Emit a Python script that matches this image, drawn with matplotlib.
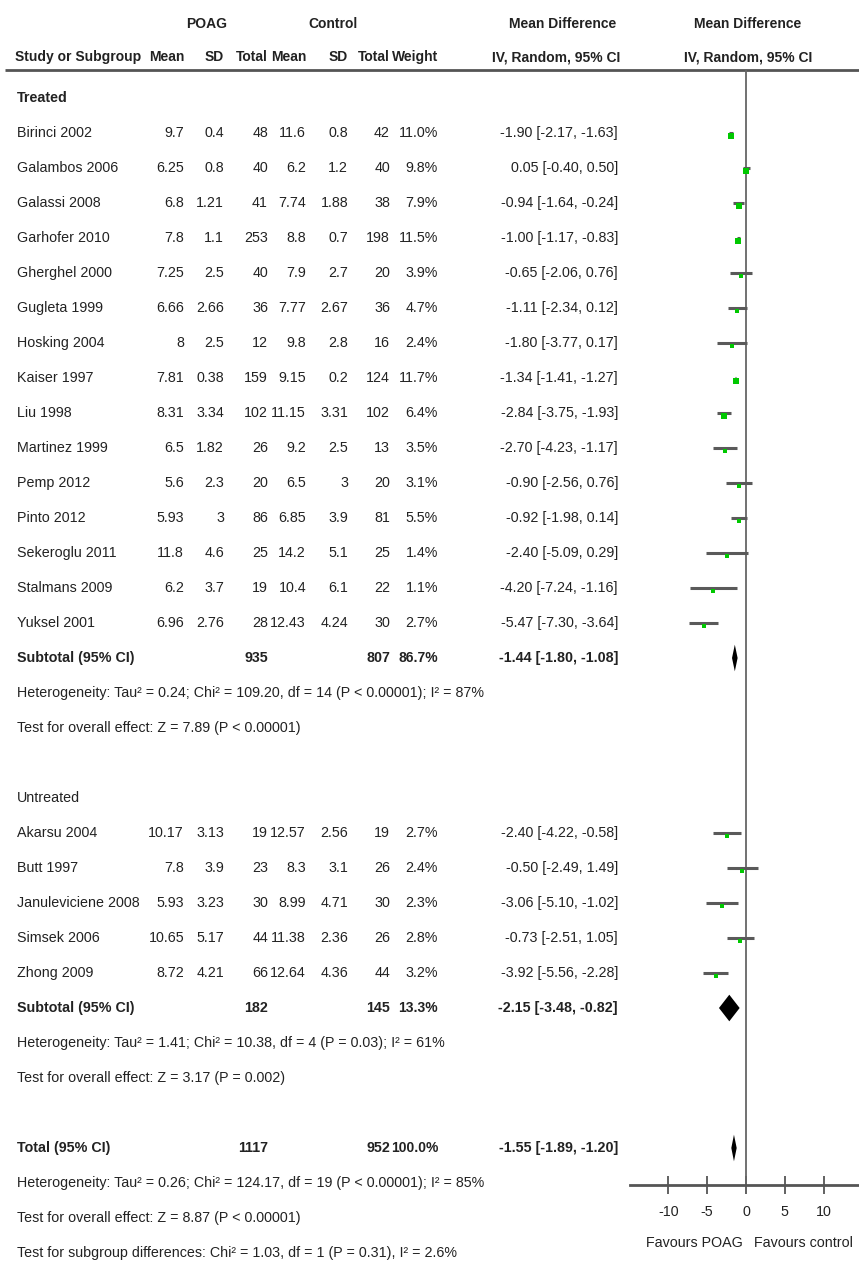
import matplotlib
matplotlib.use("Agg")
import matplotlib.pyplot as plt

plt.rcParams['font.family'] = ['Liberation Sans', 'DejaVu Sans']

# Treated subgroup
studies_t = ["Birinci 2002", "Galambos 2006", "Galassi 2008", "Garhofer 2010", "Gherghel 2000",
             "Gugleta 1999", "Hosking 2004", "Kaiser 1997", "Liu 1998", "Martinez 1999",
             "Pemp 2012", "Pinto 2012", "Sekeroglu 2011", "Stalmans 2009", "Yuksel 2001"]
poag_mean_t = [9.7, 6.25, 6.8, 7.8, 7.25, 6.66, 8, 7.81, 8.31, 6.5, 5.6, 5.93, 11.8, 6.2, 6.96]
poag_sd_t = [0.4, 0.8, 1.21, 1.1, 2.5, 2.66, 2.5, 0.38, 3.34, 1.82, 2.3, 3, 4.6, 3.7, 2.76]
poag_n_t = [48, 40, 41, 253, 40, 36, 12, 159, 102, 26, 20, 86, 25, 19, 28]
ctrl_mean_t = [11.6, 6.2, 7.74, 8.8, 7.9, 7.77, 9.8, 9.15, 11.15, 9.2, 6.5, 6.85, 14.2, 10.4, 12.43]
ctrl_sd_t = [0.8, 1.2, 1.88, 0.7, 2.7, 2.67, 2.8, 0.2, 3.31, 2.5, 3, 3.9, 5.1, 6.1, 4.24]
ctrl_n_t = [42, 40, 38, 198, 20, 36, 16, 124, 102, 13, 20, 81, 25, 22, 30]
weight_t = [11.0, 9.8, 7.9, 11.5, 3.9, 4.7, 2.4, 11.7, 6.4, 3.5, 3.1, 5.5, 1.4, 1.1, 2.7]
md_t = [-1.90, 0.05, -0.94, -1.00, -0.65, -1.11, -1.80, -1.34, -2.84, -2.70, -0.90, -0.92, -2.40, -4.20, -5.47]
lo_t = [-2.17, -0.40, -1.64, -1.17, -2.06, -2.34, -3.77, -1.41, -3.75, -4.23, -2.56, -1.98, -5.09, -7.24, -7.30]
hi_t = [-1.63, 0.50, -0.24, -0.83, 0.76, 0.12, 0.17, -1.27, -1.93, -1.17, 0.76, 0.14, 0.29, -1.16, -3.64]

# Untreated subgroup
studies_u = ["Akarsu 2004", "Butt 1997", "Januleviciene 2008", "Simsek 2006", "Zhong 2009"]
poag_mean_u = [10.17, 7.8, 5.93, 10.65, 8.72]
poag_sd_u = [3.13, 3.9, 3.23, 5.17, 4.21]
poag_n_u = [19, 23, 30, 44, 66]
ctrl_mean_u = [12.57, 8.3, 8.99, 11.38, 12.64]
ctrl_sd_u = [2.56, 3.1, 4.71, 2.36, 4.36]
ctrl_n_u = [19, 26, 30, 26, 44]
weight_u = [2.7, 2.4, 2.3, 2.8, 3.2]
md_u = [-2.40, -0.50, -3.06, -0.73, -3.92]
lo_u = [-4.22, -2.49, -5.10, -2.51, -5.56]
hi_u = [-0.58, 1.49, -1.02, 1.05, -2.28]

# Pooled estimates: treated, untreated, total
pooled_label = ["Subtotal (95% CI)", "Subtotal (95% CI)", "Total (95% CI)"]
pooled_n_poag = [935, 182, 1117]
pooled_n_ctrl = [807, 145, 952]
pooled_weight = [86.7, 13.3, 100.0]
pooled_md = [-1.44, -2.15, -1.55]
pooled_lo = [-1.80, -3.48, -1.89]
pooled_hi = [-1.08, -0.82, -1.20]

het_t = "Heterogeneity: Tau\u00b2 = 0.24; Chi\u00b2 = 109.20, df = 14 (P < 0.00001); I\u00b2 = 87%"
eff_t = "Test for overall effect: Z = 7.89 (P < 0.00001)"
het_u = "Heterogeneity: Tau\u00b2 = 1.41; Chi\u00b2 = 10.38, df = 4 (P = 0.03); I\u00b2 = 61%"
eff_u = "Test for overall effect: Z = 3.17 (P = 0.002)"
het_all = "Heterogeneity: Tau\u00b2 = 0.26; Chi\u00b2 = 124.17, df = 19 (P < 0.00001); I\u00b2 = 85%"
eff_all = "Test for overall effect: Z = 8.87 (P < 0.00001)"
sub_diff = "Test for subgroup differences: Chi\u00b2 = 1.03, df = 1 (P = 0.31), I\u00b2 = 2.6%"

x_ticks = [-10, -5, 0, 5, 10]

# layout (pixels)
W, H = 859, 1284
ROW0, ROWH = 98, 35
FS = 10.3
FS_HEAD = 10.0
TXT = '#222222'
col_x = [184, 224, 268, 306, 348, 390, 438, 618]


def row_y(r):
    return ROW0 + ROWH * r


fig = plt.figure(figsize=(W / 100, H / 100), dpi=100)
fig.patch.set_facecolor('white')

tab = fig.add_axes([0, 0, 1, 1])
tab.set_xlim(0, W)
tab.set_ylim(H, 0)
tab.axis('off')


def put(x, r, s, ha='left', bold=False, y=None, size=FS):
    yy = row_y(r) if y is None else y
    tab.text(x, yy, s, ha=ha, va='center', fontsize=size, color=TXT,
             fontweight='bold' if bold else 'normal')


def ci_text(m, l, h):
    return f"{m:.2f} [{l:.2f}, {h:.2f}]"


# header
put(207, 0, "POAG", ha='center', bold=True, y=24, size=FS_HEAD)
put(333, 0, "Control", ha='center', bold=True, y=24, size=FS_HEAD)
put(563, 0, "Mean Difference", ha='center', bold=True, y=24, size=FS_HEAD)
put(748, 0, "Mean Difference", ha='center', bold=True, y=24, size=FS_HEAD)
put(15, 0, "Study or Subgroup", bold=True, y=57, size=FS_HEAD)
for x, s in zip(col_x[:7], ["Mean", "SD", "Total", "Mean", "SD", "Total", "Weight"]):
    put(x, 0, s, ha='right', bold=True, y=57, size=FS_HEAD)
put(620, 0, "IV, Random, 95% CI", ha='right', bold=True, y=57, size=FS_HEAD)
put(748, 0, "IV, Random, 95% CI", ha='center', bold=True, y=57, size=FS_HEAD)
tab.plot([5, W], [70, 70], color='#555555', lw=2, solid_capstyle='butt')


def study_rows(r0, names, pm, ps, pn, cm, cs, cn, w, m, l, h):
    for i in range(len(names)):
        r = r0 + i
        put(17, r, names[i])
        vals = [f"{pm[i]:g}", f"{ps[i]:g}", f"{pn[i]}", f"{cm[i]:g}", f"{cs[i]:g}",
                f"{cn[i]}", f"{w[i]:.1f}%", ci_text(m[i], l[i], h[i])]
        for x, s in zip(col_x, vals):
            put(x, r, s, ha='right')


def pooled_row(r, k):
    put(17, r, pooled_label[k], bold=True)
    put(col_x[2], r, f"{pooled_n_poag[k]}", ha='right', bold=True)
    put(col_x[5], r, f"{pooled_n_ctrl[k]}", ha='right', bold=True)
    put(col_x[6], r, f"{pooled_weight[k]:.1f}%", ha='right', bold=True, size=FS_HEAD)
    put(col_x[7], r, ci_text(pooled_md[k], pooled_lo[k], pooled_hi[k]), ha='right', bold=True)


put(17, 0, "Treated", bold=True)
study_rows(1, studies_t, poag_mean_t, poag_sd_t, poag_n_t, ctrl_mean_t, ctrl_sd_t,
           ctrl_n_t, weight_t, md_t, lo_t, hi_t)
pooled_row(16, 0)
put(17, 17, het_t)
put(17, 18, eff_t)

put(17, 20, "Untreated")
study_rows(21, studies_u, poag_mean_u, poag_sd_u, poag_n_u, ctrl_mean_u, ctrl_sd_u,
           ctrl_n_u, weight_u, md_u, lo_u, hi_u)
pooled_row(26, 1)
put(17, 27, het_u)
put(17, 28, eff_u)

pooled_row(30, 2)
put(17, 31, het_all)
put(17, 32, eff_all)
put(17, 33, sub_diff)

# forest panel: x in mean-difference units, y in table rows
x0, x1 = 629.5, 862.5
y_top, y_bot = 70, 1185
fp = fig.add_axes([x0 / W, 1 - y_bot / H, (x1 - x0) / W, (y_bot - y_top) / H])
fp.set_xlim(-15, 15)
fp.set_ylim((y_bot - ROW0) / ROWH, (y_top - ROW0) / ROWH)
fp.patch.set_alpha(0)
for s in ['top', 'left', 'right']:
    fp.spines[s].set_visible(False)
fp.spines['bottom'].set_color('#555555')
fp.spines['bottom'].set_linewidth(2)
fp.set_yticks([])
fp.set_xticks(x_ticks)
fp.set_xticklabels([f"{t}" for t in x_ticks])
fp.tick_params(axis='x', direction='inout', length=13, width=1.3, color='#555555',
               labelsize=FS, labelcolor=TXT, pad=8)
fp.axvline(0, color='#666666', lw=1.3)


def draw_studies(r0, m, l, h, w):
    for i in range(len(m)):
        r = r0 + i
        fp.plot([l[i], h[i]], [r, r], color='#5a5a5a', lw=2.2, solid_capstyle='butt')
        fp.plot(m[i], r + 0.08, marker='s', color='#00c800', markersize=2.2 + 0.22 * w[i],
                markeredgewidth=0)


def draw_diamond(r, k):
    hh = 0.38
    fp.fill([pooled_lo[k], pooled_md[k], pooled_hi[k], pooled_md[k]],
            [r, r - hh, r, r + hh], color='black', lw=0)


draw_studies(1, md_t, lo_t, hi_t, weight_t)
draw_studies(21, md_u, lo_u, hi_u, weight_u)
draw_diamond(16, 0)
draw_diamond(26, 1)
draw_diamond(30, 2)

tab.text(694, 1243, "Favours POAG", ha='center', va='center', fontsize=FS, color=TXT)
tab.text(803, 1243, "Favours control", ha='center', va='center', fontsize=FS, color=TXT)

fig.savefig('out.png', dpi=100)
